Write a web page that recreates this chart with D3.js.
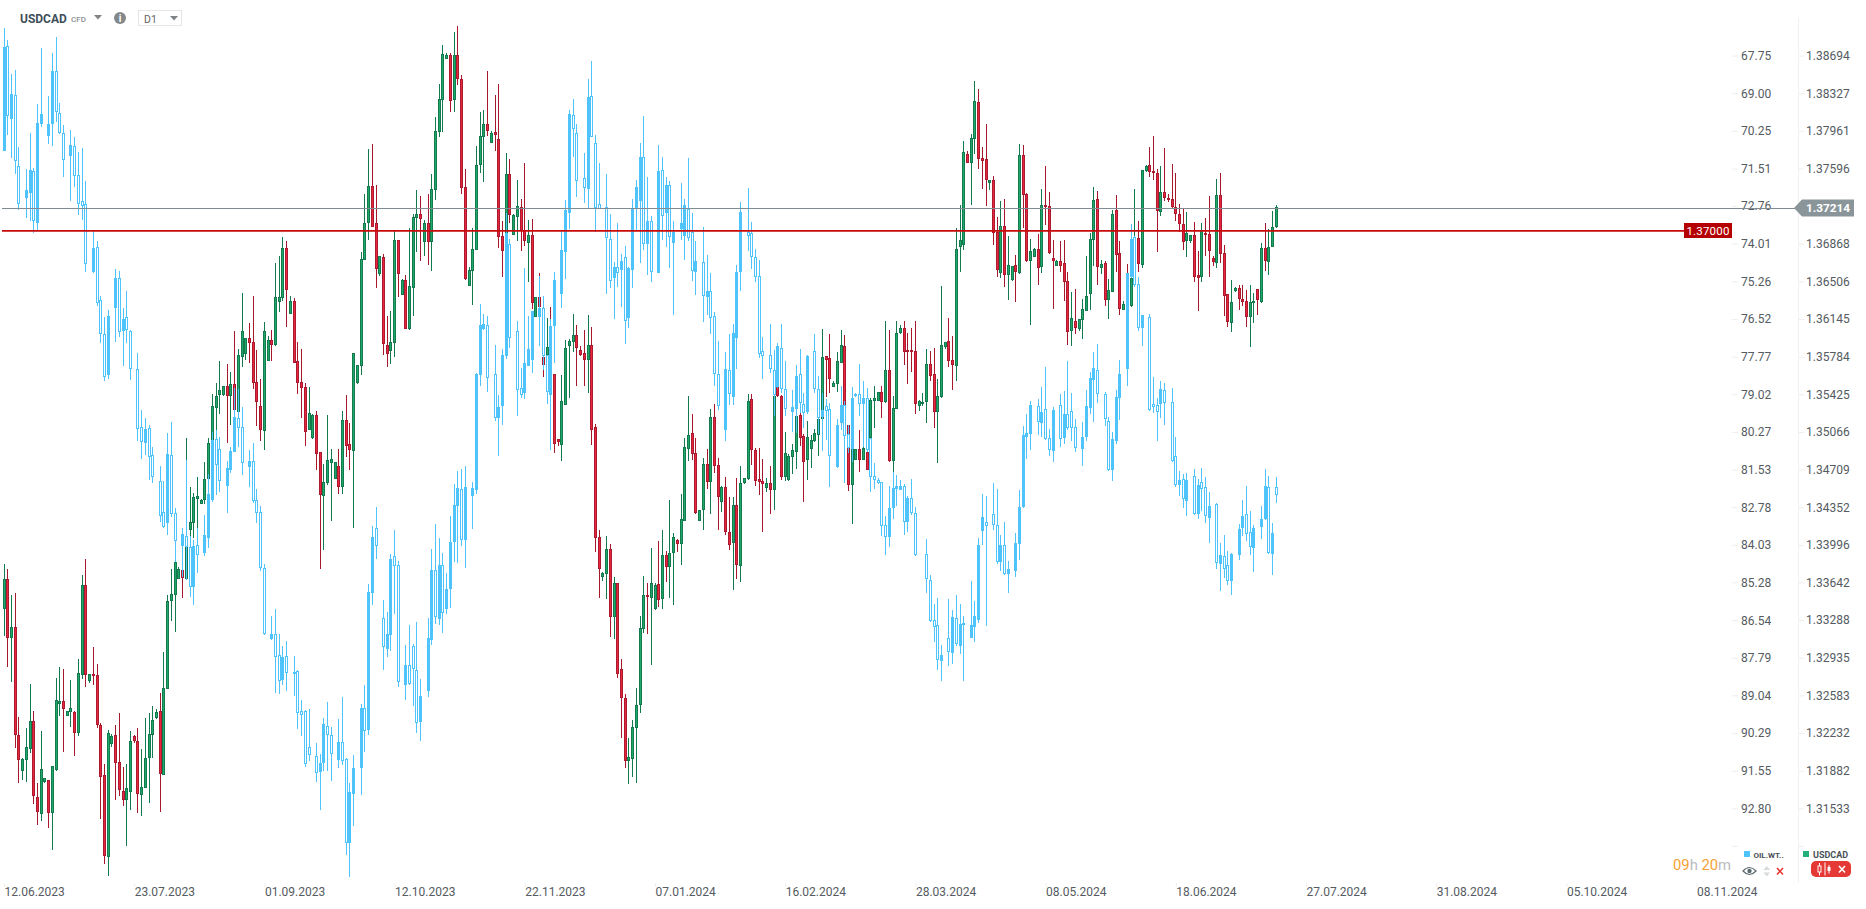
<!DOCTYPE html>
<html><head><meta charset="utf-8">
<script src="https://cdnjs.cloudflare.com/ajax/libs/d3/7.8.5/d3.min.js"></script>
<style>html,body{margin:0;padding:0;background:#fff;overflow:hidden}text{font-family:Roboto,sans-serif}</style>
</head><body><svg id="c" width="1866" height="909"></svg>
<script>
const dateLabels=["12.06.2023","23.07.2023","01.09.2023","12.10.2023","22.11.2023","07.01.2024","16.02.2024","28.03.2024","08.05.2024","18.06.2024","27.07.2024","31.08.2024","05.10.2024","08.11.2024"];
const oilTicks=[67.75,69.00,70.25,71.51,72.76,74.01,75.26,76.52,77.77,79.02,80.27,81.53,82.78,84.03,85.28,86.54,87.79,89.04,90.29,91.55,92.80];
const usdTicks=[1.38694,1.38327,1.37961,1.37596,1.37232,1.36868,1.36506,1.36145,1.35784,1.35425,1.35066,1.34709,1.34352,1.33996,1.33642,1.33288,1.32935,1.32583,1.32232,1.31882,1.31533];
const lastPrice=1.37214, levelPrice=1.37000;
// rows: open, high, low, close
const usdOhlc=[
[1.3339,1.3382,1.3314,1.3367],[1.3367,1.3377,1.3285,1.3312],[1.3312,1.3352,1.3271,1.3322],[1.3322,1.3354,1.3209,1.3221],[1.3221,1.3238,1.3177,1.3198],[1.3188,1.3200,1.3180,1.3199],
[1.3198,1.3228,1.3178,1.3210],[1.3208,1.3269,1.3205,1.3234],[1.3234,1.3244,1.3157,1.3164],[1.3164,1.3177,1.3138,1.3150],[1.3148,1.3225,1.3142,1.3190],[1.3177,1.3181,1.3177,1.3181],
[1.3180,1.3180,1.3135,1.3149],[1.3149,1.3193,1.3115,1.3193],[1.3189,1.3275,1.3188,1.3254],[1.3250,1.3285,1.3239,1.3253],[1.3253,1.3283,1.3206,1.3246],[1.3239,1.3244,1.3239,1.3244],
[1.3243,1.3273,1.3229,1.3247],[1.3243,1.3244,1.3202,1.3223],[1.3223,1.3292,1.3220,1.3279],[1.3278,1.3371,1.3274,1.3362],[1.3362,1.3386,1.3266,1.3278],[1.3271,1.3278,1.3270,1.3278],
[1.3278,1.3304,1.3268,1.3276],[1.3277,1.3288,1.3228,1.3230],[1.3231,1.3233,1.3143,1.3183],[1.3184,1.3194,1.3102,1.3109],[1.3108,1.3226,1.3091,1.3223],[1.3213,1.3222,1.3210,1.3220],
[1.3221,1.3231,1.3161,1.3195],[1.3196,1.3242,1.3165,1.3170],[1.3169,1.3192,1.3155,1.3161],[1.3161,1.3194,1.3118,1.3172],[1.3169,1.3225,1.3152,1.3216],[1.3220,1.3221,1.3214,1.3215],
[1.3216,1.3228,1.3149,1.3167],[1.3166,1.3208,1.3146,1.3173],[1.3172,1.3237,1.3172,1.3200],[1.3200,1.3242,1.3158,1.3222],[1.3221,1.3248,1.3200,1.3235],[1.3237,1.3246,1.3236,1.3243],
[1.3244,1.3261,1.3150,1.3185],[1.3184,1.3299,1.3184,1.3265],[1.3265,1.3352,1.3265,1.3347],[1.3346,1.3377,1.3328,1.3353],[1.3352,1.3387,1.3318,1.3383],[1.3368,1.3379,1.3368,1.3377],
[1.3376,1.3385,1.3350,1.3368],[1.3368,1.3501,1.3367,1.3398],[1.3413,1.3454,1.3395,1.3421],[1.3420,1.3449,1.3406,1.3445],[1.3443,1.3464,1.3415,1.3446],[1.3438,1.3443,1.3438,1.3442],
[1.3442,1.3478,1.3438,1.3462],[1.3462,1.3501,1.3461,1.3496],[1.3499,1.3543,1.3496,1.3531],[1.3530,1.3553,1.3508,1.3541],[1.3542,1.3574,1.3524,1.3547],[1.3541,1.3550,1.3541,1.3550],
[1.3550,1.3571,1.3496,1.3540],[1.3541,1.3564,1.3513,1.3552],[1.3552,1.3603,1.3526,1.3527],[1.3526,1.3586,1.3526,1.3580],[1.3578,1.3639,1.3569,1.3603],[1.3581,1.3596,1.3575,1.3596],
[1.3596,1.3611,1.3572,1.3591],[1.3592,1.3637,1.3548,1.3553],[1.3554,1.3585,1.3512,1.3535],[1.3531,1.3557,1.3498,1.3508],[1.3508,1.3612,1.3489,1.3603],[1.3574,1.3598,1.3574,1.3594],
[1.3594,1.3604,1.3574,1.3589],[1.3590,1.3668,1.3589,1.3636],[1.3631,1.3675,1.3621,1.3636],[1.3635,1.3693,1.3632,1.3683],[1.3683,1.3689,1.3607,1.3643],[1.3620,1.3637,1.3619,1.3632],
[1.3632,1.3635,1.3573,1.3573],[1.3574,1.3592,1.3543,1.3553],[1.3554,1.3586,1.3520,1.3548],[1.3549,1.3553,1.3493,1.3506],[1.3509,1.3549,1.3508,1.3525],[1.3501,1.3524,1.3500,1.3523],
[1.3523,1.3527,1.3470,1.3486],[1.3488,1.3488,1.3377,1.3447],[1.3446,1.3476,1.3395,1.3459],[1.3458,1.3523,1.3456,1.3480],[1.3477,1.3490,1.3422,1.3481],[1.3462,1.3478,1.3462,1.3478],
[1.3474,1.3490,1.3448,1.3454],[1.3454,1.3527,1.3448,1.3518],[1.3518,1.3542,1.3483,1.3493],[1.3495,1.3515,1.3470,1.3489],[1.3489,1.3582,1.3416,1.3582],[1.3553,1.3570,1.3552,1.3570],
[1.3569,1.3679,1.3561,1.3672],[1.3671,1.3735,1.3671,1.3707],[1.3707,1.3778,1.3690,1.3743],[1.3743,1.3783,1.3703,1.3703],[1.3707,1.3744,1.3644,1.3663],[1.3658,1.3675,1.3656,1.3675],
[1.3674,1.3677,1.3580,1.3590],[1.3590,1.3617,1.3569,1.3581],[1.3583,1.3622,1.3571,1.3592],[1.3591,1.3700,1.3578,1.3690],[1.3690,1.3690,1.3636,1.3657],[1.3638,1.3653,1.3638,1.3652],
[1.3652,1.3657,1.3605,1.3605],[1.3605,1.3702,1.3604,1.3646],[1.3645,1.3716,1.3617,1.3713],[1.3712,1.3739,1.3679,1.3716],[1.3716,1.3733,1.3670,1.3711],[1.3689,1.3710,1.3675,1.3707],
[1.3707,1.3735,1.3666,1.3689],[1.3689,1.3754,1.3661,1.3740],[1.3739,1.3810,1.3729,1.3796],[1.3795,1.3842,1.3790,1.3827],[1.3826,1.3880,1.3795,1.3871],[1.3866,1.3872,1.3866,1.3870],
[1.3870,1.3872,1.3814,1.3825],[1.3826,1.3892,1.3814,1.3870],[1.3870,1.3898,1.3841,1.3847],[1.3847,1.3850,1.3735,1.3741],[1.3742,1.3759,1.3652,1.3653],[1.3647,1.3664,1.3647,1.3662],
[1.3661,1.3702,1.3628,1.3682],[1.3681,1.3781,1.3681,1.3763],[1.3763,1.3814,1.3755,1.3791],[1.3790,1.3816,1.3746,1.3803],[1.3803,1.3854,1.3791,1.3796],[1.3784,1.3796,1.3784,1.3794],
[1.3795,1.3831,1.3777,1.3792],[1.3788,1.3842,1.3683,1.3693],[1.3694,1.3709,1.3655,1.3680],[1.3695,1.3775,1.3686,1.3754],[1.3754,1.3769,1.3707,1.3714],[1.3696,1.3716,1.3696,1.3715],
[1.3712,1.3748,1.3689,1.3723],[1.3722,1.3730,1.3680,1.3699],[1.3700,1.3765,1.3685,1.3689],[1.3687,1.3710,1.3650,1.3695],[1.3695,1.3711,1.3624,1.3630],[1.3617,1.3636,1.3617,1.3636],
[1.3636,1.3659,1.3626,1.3626],[1.3578,1.3578,1.3559,1.3570],[1.3580,1.3615,1.3580,1.3588],[1.3588,1.3626,1.3559,1.3562],[1.3562,1.3562,1.3487,1.3495],[1.3500,1.3500,1.3493,1.3497],
[1.3494,1.3561,1.3479,1.3536],[1.3533,1.3594,1.3532,1.3587],[1.3588,1.3595,1.3539,1.3593],[1.3592,1.3619,1.3583,1.3599],[1.3599,1.3609,1.3550,1.3587],[1.3585,1.3589,1.3579,1.3580],
[1.3582,1.3604,1.3550,1.3575],[1.3576,1.3618,1.3544,1.3590],[1.3590,1.3607,1.3494,1.3509],[1.3511,1.3514,1.3393,1.3406],[1.3407,1.3414,1.3350,1.3377],[1.3369,1.3374,1.3366,1.3373],
[1.3372,1.3408,1.3349,1.3396],[1.3396,1.3400,1.3313,1.3332],[1.3332,1.3369,1.3311,1.3364],[1.3364,1.3364,1.3275,1.3279],[1.3283,1.3292,1.3219,1.3256],[1.3256,1.3260,1.3191,1.3197],
[1.3197,1.3219,1.3176,1.3201],[1.3199,1.3235,1.3182,1.3229],[1.3228,1.3265,1.3177,1.3249],[1.3249,1.3333,1.3242,1.3321],[1.3320,1.3370,1.3317,1.3352],[1.3352,1.3364,1.3316,1.3350],
[1.3350,1.3397,1.3287,1.3364],[1.3339,1.3364,1.3338,1.3362],[1.3363,1.3403,1.3341,1.3348],[1.3349,1.3414,1.3339,1.3390],[1.3390,1.3394,1.3365,1.3379],[1.3379,1.3442,1.3350,1.3392],
[1.3392,1.3411,1.3343,1.3407],[1.3404,1.3405,1.3393,1.3400],[1.3400,1.3448,1.3381,1.3424],[1.3422,1.3501,1.3422,1.3492],[1.3491,1.3541,1.3479,1.3504],[1.3506,1.3524,1.3480,1.3486],
[1.3487,1.3501,1.3429,1.3430],[1.3423,1.3433,1.3422,1.3433],[1.3432,1.3482,1.3414,1.3476],[1.3476,1.3490,1.3452,1.3459],[1.3459,1.3528,1.3429,1.3521],[1.3521,1.3533,1.3468,1.3474],
[1.3475,1.3482,1.3414,1.3445],[1.3440,1.3455,1.3431,1.3454],[1.3454,1.3464,1.3409,1.3411],[1.3412,1.3445,1.3395,1.3400],[1.3401,1.3445,1.3357,1.3437],[1.3437,1.3463,1.3367,1.3380],
[1.3380,1.3474,1.3365,1.3458],[1.3458,1.3463,1.3457,1.3463],[1.3462,1.3543,1.3461,1.3536],[1.3538,1.3543,1.3475,1.3489],[1.3489,1.3491,1.3455,1.3460],[1.3462,1.3491,1.3447,1.3459],
[1.3460,1.3481,1.3412,1.3457],[1.3453,1.3463,1.3450,1.3458],[1.3458,1.3474,1.3429,1.3451],[1.3452,1.3585,1.3433,1.3541],[1.3549,1.3550,1.3540,1.3540],[1.3541,1.3542,1.3461,1.3464],
[1.3464,1.3507,1.3460,1.3487],[1.3461,1.3486,1.3460,1.3484],[1.3482,1.3495,1.3467,1.3489],[1.3488,1.3528,1.3471,1.3522],[1.3523,1.3525,1.3493,1.3501],[1.3503,1.3505,1.3440,1.3478],
[1.3480,1.3517,1.3461,1.3502],[1.3490,1.3504,1.3472,1.3499],[1.3498,1.3509,1.3497,1.3506],[1.3504,1.3520,1.3484,1.3519],[1.3519,1.3605,1.3518,1.3578],[1.3579,1.3579,1.3540,1.3575],
[1.3577,1.3600,1.3544,1.3557],[1.3549,1.3555,1.3549,1.3553],[1.3552,1.3583,1.3545,1.3574],[1.3573,1.3604,1.3573,1.3590],[1.3589,1.3599,1.3527,1.3533],[1.3513,1.3513,1.3451,1.3456],
[1.3456,1.3493,1.3419,1.3490],[1.3480,1.3490,1.3480,1.3490],[1.3490,1.3508,1.3469,1.3480],[1.3480,1.3499,1.3480,1.3491],[1.3488,1.3490,1.3471,1.3471],[1.3501,1.3539,1.3501,1.3537],
[1.3536,1.3550,1.3510,1.3539],[1.3536,1.3545,1.3536,1.3545],[1.3545,1.3550,1.3520,1.3535],[1.3535,1.3613,1.3534,1.3566],[1.3566,1.3604,1.3478,1.3479],[1.3479,1.3541,1.3469,1.3529],
[1.3528,1.3613,1.3528,1.3601],[1.3601,1.3609,1.3600,1.3606],[1.3606,1.3613,1.3570,1.3583],[1.3585,1.3601,1.3552,1.3583],[1.3585,1.3606,1.3564,1.3583],[1.3584,1.3613,1.3524,1.3533],
[1.3531,1.3537,1.3527,1.3536],[1.3533,1.3544,1.3531,1.3535],[1.3535,1.3586,1.3515,1.3571],[1.3571,1.3584,1.3555,1.3560],[1.3562,1.3587,1.3510,1.3526],[1.3526,1.3557,1.3477,1.3541],
[1.3540,1.3646,1.3539,1.3590],[1.3587,1.3592,1.3586,1.3592],[1.3593,1.3615,1.3569,1.3574],[1.3575,1.3598,1.3547,1.3570],[1.3570,1.3702,1.3555,1.3682],[1.3683,1.3724,1.3660,1.3690],
[1.3686,1.3786,1.3681,1.3776],[1.3774,1.3777,1.3765,1.3765],[1.3765,1.3793,1.3724,1.3789],[1.3788,1.3845,1.3774,1.3825],[1.3824,1.3837,1.3759,1.3769],[1.3770,1.3780,1.3740,1.3767],
[1.3769,1.3803,1.3723,1.3749],[1.3745,1.3748,1.3739,1.3748],[1.3748,1.3752,1.3686,1.3697],[1.3698,1.3713,1.3655,1.3661],[1.3659,1.3728,1.3654,1.3704],[1.3704,1.3730,1.3645,1.3657],
[1.3656,1.3694,1.3633,1.3666],[1.3652,1.3665,1.3651,1.3665],[1.3666,1.3676,1.3631,1.3659],[1.3659,1.3783,1.3658,1.3773],[1.3773,1.3782,1.3702,1.3734],[1.3735,1.3736,1.3669,1.3670],
[1.3670,1.3691,1.3609,1.3680],[1.3674,1.3683,1.3674,1.3682],[1.3682,1.3696,1.3647,1.3664],[1.3664,1.3740,1.3659,1.3724],[1.3724,1.3762,1.3705,1.3722],[1.3723,1.3737,1.3677,1.3678],
[1.3673,1.3690,1.3624,1.3670],[1.3665,1.3671,1.3665,1.3670],[1.3670,1.3689,1.3660,1.3665],[1.3668,1.3690,1.3632,1.3650],[1.3651,1.3660,1.3590,1.3602],[1.3603,1.3640,1.3589,1.3615],
[1.3613,1.3643,1.3600,1.3606],[1.3604,1.3614,1.3603,1.3614],[1.3613,1.3634,1.3595,1.3624],[1.3623,1.3675,1.3623,1.3637],[1.3638,1.3697,1.3623,1.3691],[1.3690,1.3742,1.3665,1.3729],
[1.3730,1.3738,1.3647,1.3664],[1.3663,1.3671,1.3658,1.3667],[1.3668,1.3670,1.3627,1.3632],[1.3632,1.3653,1.3614,1.3642],[1.3641,1.3719,1.3641,1.3716],[1.3719,1.3734,1.3660,1.3676],
[1.3678,1.3689,1.3618,1.3624],[1.3623,1.3632,1.3623,1.3629],[1.3629,1.3667,1.3623,1.3625],[1.3627,1.3671,1.3626,1.3654],[1.3654,1.3740,1.3653,1.3692],[1.3692,1.3709,1.3660,1.3667],
[1.3666,1.3758,1.3663,1.3758],[1.3757,1.3763,1.3756,1.3762],[1.3763,1.3780,1.3751,1.3756],[1.3757,1.3791,1.3748,1.3755],[1.3755,1.3759,1.3679,1.3718],[1.3718,1.3762,1.3714,1.3737],
[1.3737,1.3779,1.3728,1.3731],[1.3731,1.3735,1.3727,1.3729],[1.3730,1.3764,1.3720,1.3722],[1.3722,1.3755,1.3709,1.3715],[1.3716,1.3725,1.3698,1.3706],[1.3706,1.3720,1.3681,1.3689],
[1.3689,1.3717,1.3674,1.3697],[1.3689,1.3695,1.3688,1.3695],[1.3695,1.3708,1.3650,1.3655],[1.3657,1.3680,1.3622,1.3654],[1.3655,1.3707,1.3650,1.3700],[1.3697,1.3712,1.3675,1.3695],
[1.3696,1.3733,1.3655,1.3680],[1.3673,1.3675,1.3665,1.3669],[1.3668,1.3749,1.3663,1.3734],[1.3734,1.3755,1.3668,1.3677],[1.3678,1.3686,1.3617,1.3637],[1.3638,1.3638,1.3607,1.3611],
[1.3611,1.3652,1.3602,1.3631],[1.3641,1.3645,1.3640,1.3644],[1.3644,1.3647,1.3623,1.3633],[1.3634,1.3647,1.3627,1.3631],[1.3632,1.3642,1.3607,1.3617],[1.3617,1.3647,1.3588,1.3631],
[1.3631,1.3639,1.3611,1.3632],[1.3643,1.3643,1.3618,1.3632],[1.3631,1.3688,1.3630,1.3683],[1.3683,1.3707,1.3661,1.3670],[1.3670,1.3701,1.3657,1.3684],[1.3684,1.3718,1.3684,1.3703],
[1.3703,1.3724,1.3702,1.3722]];
const oilOhlc=[
[70.91,70.91,66.84,67.46],[67.44,70.39,67.23,69.78],[69.88,71.15,68.36,69.04],[69.07,71.68,68.23,71.28],[71.43,72.89,70.79,72.70],null,
[72.51,73.15,71.53,72.23],[72.34,73.24,70.34,71.57],[71.60,73.64,71.50,73.27],[73.34,73.55,69.37,70.00],[70.04,70.13,67.51,69.70],null,
[70.45,70.69,69.09,70.04],[70.03,70.75,67.67,68.27],[68.27,69.97,67.14,69.65],[69.67,70.36,69.34,70.35],[70.34,71.78,70.07,71.25],null,
[71.11,72.58,70.23,70.74],[70.77,72.11,70.47,71.78],[71.73,73.05,70.97,72.68],[72.60,73.21,70.84,72.76],[72.70,74.94,71.93,74.70],null,
[74.97,74.98,73.59,74.16],[74.11,76.08,73.93,75.96],[75.89,77.33,75.75,77.03],[77.02,78.58,76.46,78.45],[78.38,78.52,76.21,76.42],null,
[76.17,77.27,74.86,75.16],[75.16,77.13,74.92,76.97],[76.92,78.07,76.15,76.52],[76.46,77.32,75.58,76.89],[76.91,78.53,76.89,78.17],null,
[78.19,80.56,77.66,80.18],[80.12,81.18,79.54,80.63],[80.63,81.04,79.82,80.18],[80.15,81.89,80.04,81.12],[81.05,81.96,80.76,81.78],null,
[81.91,83.26,81.40,83.06],[82.95,83.47,81.90,83.46],[83.31,83.70,80.32,81.00],[81.05,83.09,79.95,83.01],[82.98,84.59,82.81,83.92],null,
[84.09,85.09,83.48,83.68],[83.73,85.20,81.20,84.09],[84.11,85.78,83.75,85.45],[85.45,86.04,83.87,84.08],[84.04,84.97,83.48,84.36],null,
[84.32,84.42,83.03,83.71],[83.82,84.15,81.67,82.35],[82.54,82.59,80.29,80.54],[80.52,82.37,80.21,81.39],[80.85,82.26,80.43,81.92],null,
[82.09,82.98,81.24,81.48],[81.56,81.65,80.76,80.92],[80.93,80.94,78.82,79.78],[79.82,80.76,78.84,80.16],[80.12,81.70,79.45,81.32],null,
[81.43,82.12,80.87,81.24],[81.25,82.65,80.65,82.59],[82.55,83.29,82.17,82.98],[82.95,84.89,82.73,84.82],[84.81,87.03,84.68,87.00],null,
[87.18,87.19,86.39,87.00],[87.00,88.95,86.17,87.78],[87.70,88.99,87.00,88.58],[88.55,88.69,87.41,87.77],[87.74,88.89,87.23,88.30],null,
[88.27,89.06,87.73,88.35],[88.24,90.15,88.19,89.64],[89.57,90.39,89.19,89.70],[89.57,91.41,89.52,91.34],[90.76,91.22,89.50,91.01],null,
[91.06,91.92,90.63,91.63],[91.61,92.85,90.99,91.30],[91.31,91.57,89.80,90.00],[90.07,91.57,89.26,90.36],[90.36,91.88,90.10,91.00],null,
[91.21,91.46,89.83,90.60],[90.60,91.35,89.10,91.24],[91.16,94.35,91.13,93.96],[93.96,95.07,91.96,92.26],[92.31,93.40,91.02,91.46],null,
[91.47,92.35,89.33,89.47],[89.47,90.94,88.69,90.23],[90.21,90.35,85.34,85.61],[85.65,86.05,83.41,83.78],[83.48,84.49,82.77,84.09],null,
[86.47,88.21,85.86,87.45],[87.51,87.75,86.27,87.00],[87.05,87.55,84.33,84.51],[84.41,86.32,83.53,84.74],[84.71,88.75,84.58,88.60],null,
[88.71,89.21,87.37,88.04],[88.04,88.69,86.70,88.67],[87.40,89.41,87.33,88.17],[88.20,90.29,86.61,89.96],[89.94,90.57,88.49,89.07],null,
[88.91,89.11,86.46,87.14],[87.20,87.36,84.17,84.87],[84.88,86.66,83.33,86.44],[86.52,86.69,83.80,84.71],[84.71,86.95,84.30,86.31],[86.19,86.33,84.98,85.51],
[85.52,86.12,83.07,83.94],[83.95,84.60,82.00,82.71],[82.76,84.62,81.58,82.15],[82.18,84.07,81.50,83.89],[83.89,84.80,81.40,82.11],null,
[82.41,83.50,81.94,82.15],[82.20,82.34,78.32,78.34],[78.37,78.76,76.01,76.72],[76.87,76.88,76.35,76.69],[76.72,78.96,76.41,78.50],null,
[78.35,79.91,77.38,79.82],[79.81,81.06,79.04,79.44],[79.43,80.04,77.51,77.72],[77.77,77.85,73.00,73.66],[74.03,77.49,73.85,77.16],null,
[76.92,79.74,76.58,78.89],[78.82,79.15,78.14,79.06],[79.00,79.19,74.81,77.99],[78.07,78.07,76.41,77.52],[77.88,78.30,76.24,76.24],null,
[76.46,77.40,75.07,76.16],[76.16,78.21,75.75,77.77],[77.73,79.34,77.71,78.96],[79.04,80.87,76.52,76.75],[76.77,77.97,74.95,75.23],null,
[75.70,76.14,73.55,74.22],[74.30,75.17,72.55,72.89],[72.98,73.51,69.56,69.70],[69.74,71.11,69.19,70.20],[70.34,72.44,70.03,71.93],null,
[71.83,72.64,71.00,72.17],[72.21,72.83,68.53,69.14],[69.10,70.47,67.93,70.47],[70.67,73.63,70.40,72.83],[72.70,72.86,71.33,72.86],null,
[72.80,75.70,71.69,73.83],[73.86,75.49,73.02,75.27],[75.14,76.50,74.61,74.79],[74.79,75.46,73.33,75.00],[74.89,76.10,74.35,74.59],[74.46,77.36,74.08,76.59],
[76.50,76.81,74.79,74.83],[74.86,75.47,72.53,72.84],[72.86,73.55,71.89,72.13],[72.58,74.64,70.67,71.13],[71.13,74.22,69.75,74.01],[74.01,75.05,71.80,73.26],
[73.26,75.27,73.10,74.97],null,[74.97,74.98,70.74,71.59],[71.57,73.88,71.13,73.10],[73.01,74.11,71.80,72.07],[72.07,74.81,71.92,73.80],
[74.01,76.37,73.25,73.63],null,[73.52,73.88,72.00,73.33],[73.77,74.55,72.52,72.73],[72.84,73.91,71.17,73.80],[73.63,75.25,73.00,74.94],
[74.97,75.71,73.92,74.59],null,[74.63,76.60,73.44,75.77],[75.80,76.38,74.38,75.59],[75.59,77.00,74.98,76.49],[76.42,78.73,76.28,78.35],
[78.35,79.54,77.25,79.42],null,[80.23,80.56,77.61,78.19],[78.22,79.39,77.01,79.02],[79.12,79.37,76.68,76.99],[77.16,78.17,74.72,74.96],
[74.97,75.57,72.63,72.96],null,[73.63,74.24,72.15,73.77],[73.66,74.85,73.29,74.46],[74.46,75.28,74.18,75.13],[75.09,77.80,74.55,77.69],
[77.59,78.50,77.12,77.76],null,[77.72,78.32,76.68,78.19],[78.22,79.73,77.54,79.05],[78.79,78.80,77.32,77.42],[77.49,78.99,76.68,78.85],
[78.85,79.76,77.91,79.52],null,[79.63,80.27,78.88,79.45],[79.52,80.32,78.05,78.42],[78.35,79.65,77.52,79.33],[79.34,80.15,78.99,79.63],
[79.63,79.67,77.72,77.75],null,[77.59,78.99,77.01,78.85],[78.85,80.35,78.41,79.82],[79.78,80.90,78.99,79.54],[79.42,80.54,79.17,79.58],
[79.52,82.12,79.32,81.09],null,[81.46,81.47,79.84,80.05],[79.99,80.21,78.74,79.39],[79.39,81.96,79.24,80.43],[80.35,80.98,80.04,80.83],
[80.84,81.26,78.79,79.15],[79.10,79.12,78.99,79.02],[79.02,79.73,78.01,79.36],[79.36,80.76,78.58,79.15],[79.15,80.93,78.82,80.89],[80.48,82.29,80.48,81.79],
[81.75,82.17,81.32,81.89],[81.88,82.01,81.81,81.99],[81.95,83.75,81.93,83.42],[83.38,84.36,83.07,83.78],[83.79,84.09,82.09,82.81],[82.81,83.17,81.60,82.15],
[82.20,82.73,81.70,82.09],[82.19,82.20,81.89,82.06],[82.06,83.72,82.01,83.26],[83.29,83.59,82.42,82.48],[82.48,83.03,81.84,82.99],[82.98,84.42,82.76,84.39],
null,null,[84.34,85.65,83.84,85.17],[85.21,86.59,85.03,86.57],[86.54,87.25,86.00,86.77],[86.71,88.19,85.80,87.88],
[87.91,88.56,87.36,87.70],null,[87.14,88.08,85.83,87.61],[87.65,87.99,86.19,86.44],[86.47,87.41,85.70,87.35],[87.41,87.66,86.00,86.67],
[86.64,88.58,86.39,86.71],null,[87.12,87.13,85.23,86.70],[86.78,87.25,85.90,86.41],[86.52,86.64,83.80,84.04],[83.59,84.05,82.33,83.11],
[83.26,86.72,82.40,83.38],null,[83.01,83.53,81.98,83.38],[83.38,84.66,82.17,84.62],[84.62,84.89,83.71,84.04],[84.04,85.03,83.27,85.02],
[85.02,85.62,84.57,84.84],null,[84.92,85.09,83.64,83.98],[84.02,84.53,82.20,82.78],[82.76,82.82,80.07,80.38],[80.46,81.16,79.67,80.32],
[80.36,80.89,79.24,79.39],null,[79.42,80.37,79.19,79.96],[79.98,80.43,78.78,79.62],[79.52,80.53,78.12,80.52],[80.48,81.09,80.17,80.88],
[80.93,81.26,79.44,79.55],null,[79.39,80.76,79.02,80.52],[80.49,80.66,78.91,79.68],[79.68,80.21,77.92,80.16],[79.59,80.59,78.99,80.15],
[80.12,80.93,79.84,80.83],null,[80.86,81.40,79.95,80.45],[80.46,80.56,78.89,79.42],[79.50,79.67,78.29,78.49],[78.56,79.93,77.62,78.15],
[78.22,79.30,77.36,79.03],null,[79.02,80.07,78.95,79.85],[79.92,81.59,79.78,81.56],[81.56,81.90,80.28,80.52],[80.59,80.66,78.89,79.12],
[79.16,79.87,77.88,78.35],null,[78.21,78.76,75.00,75.00],[75.13,75.16,73.35,73.86],[73.79,75.44,73.77,75.40],[75.36,76.93,75.13,76.83],
[76.83,77.43,76.38,76.39],null,[76.46,79.57,76.36,79.54],[79.35,79.63,78.44,79.46],[79.37,80.59,79.15,79.60],[79.34,79.80,78.59,78.85],
[78.89,80.06,78.64,79.33],null,[79.29,81.29,78.81,81.26],[81.09,82.12,80.45,82.06],[82.04,82.42,81.57,81.87],[81.85,82.79,81.68,82.51],
[82.56,83.06,81.65,81.87],null,[81.75,83.03,81.51,83.01],[83.00,83.17,81.85,82.05],[81.95,82.90,81.48,82.19],[82.11,83.30,81.77,83.09],
[83.16,83.97,82.28,82.75],null,[82.67,84.84,82.63,84.62],[84.68,85.56,83.98,84.38],[84.41,85.13,83.71,84.84],[84.71,85.36,84.23,85.24],
[85.24,85.70,84.31,84.34],null,[84.38,84.53,83.33,83.51],[83.49,83.73,82.54,83.08],[83.01,83.89,82.07,83.69],[83.61,84.36,82.91,84.11],
[84.15,84.93,83.38,83.48],null,[83.46,83.84,82.75,83.18],[83.19,83.20,81.51,82.08],[82.11,84.33,81.74,84.31],[84.35,85.03,83.30,83.64],
[82.11,82.63,81.77,82.36]];

const svg=d3.select("#c");
const x=d3.scaleLinear().domain([0,455]).range([4,1696.6]);
const yOil=d3.scaleLinear().domain([67.75,92.80]).range([55.6,808.3]);
const yUsd=d3.scaleLog().domain([1.38694,1.31533]).range([55.6,808.3]);
const cx=i=>Math.floor(x(i))+0.5;

function candles(rows,y,cls,style){
  const data=rows.map((r,i)=>r&&({i,o:r[0],h:r[1],l:r[2],c:r[3]})).filter(Boolean);
  const g=svg.append("g").attr("class",cls).attr("shape-rendering","crispEdges");
  const sel=g.selectAll("g").data(data).join("g");
  sel.append("line").attr("x1",d=>cx(d.i)).attr("x2",d=>cx(d.i))
    .attr("y1",d=>Math.min(y(d.h),y(d.l))).attr("y2",d=>Math.max(y(d.h),y(d.l)))
    .attr("stroke",d=>style(d).wick);
  sel.append("rect").attr("x",d=>cx(d.i)-1).attr("width",2)
    .attr("y",d=>Math.round(Math.min(y(d.o),y(d.c)))+0.5)
    .attr("height",d=>Math.max(1,Math.round(Math.abs(y(d.o)-y(d.c)))-1))
    .attr("fill",d=>style(d).fill).attr("stroke",d=>style(d).stroke);
}
candles(usdOhlc,yUsd,"usd",d=>d.c>=d.o?{wick:"#127a4e",fill:"#1fa868",stroke:"#127a4e"}:{wick:"#a8182c",fill:"#e8273f",stroke:"#ab1a2e"});
candles(oilOhlc,yOil,"oil",d=>d.c<d.o?{wick:"#4fc3fb",fill:"#4fc3fb",stroke:"#4fc3fb"}:{wick:"#4fc3fb",fill:"#fff",stroke:"#4fc3fb"});

// axes
function styleAxis(g){
  g.select(".domain").remove();
  g.selectAll(".tick line").attr("stroke","#eeeeee");
  g.selectAll(".tick text").attr("fill","#555b61").style("font-size","12px").style("font-family","Roboto");
}
svg.append("line").attr("x1",1798.5).attr("x2",1798.5).attr("y1",18).attr("y2",883).attr("stroke","#f0f0f0");
const oilAxis=d3.axisRight(yOil).tickValues(oilTicks.concat([94.05])).tickSize(6).tickPadding(3)
  .tickFormat(d=>d>93?"":d3.format(".2f")(d));
svg.append("g").attr("transform","translate(1732,0)").call(oilAxis).call(styleAxis);
const usdAxis=d3.axisRight(yUsd).tickValues(usdTicks.concat([1.31185])).tickSize(5).tickPadding(2)
  .tickFormat(d=>d<1.313?"":d3.format(".5f")(d));
svg.append("g").attr("transform","translate(1799,0)").call(usdAxis).call(styleAxis);
const xAxis=d3.axisBottom(x).tickValues(d3.range(0,456,35)).tickSize(4).tickPadding(3)
  .tickFormat(i=>dateLabels[i/35]);
svg.append("g").attr("transform","translate(0,883)").call(xAxis).call(styleAxis)
  .selectAll(".tick text").attr("text-anchor","start").attr("y",4.8);

// price lines
svg.append("line").attr("x1",2).attr("x2",1795).attr("y1",Math.round(yUsd(lastPrice))+.5).attr("y2",Math.round(yUsd(lastPrice))+.5).attr("stroke","#808c91").attr("shape-rendering","crispEdges");
const ly=Math.round(yUsd(levelPrice))+.5;
svg.append("line").attr("x1",2).attr("x2",1684).attr("y1",ly+.3).attr("y2",ly+.3).attr("stroke","#c80a0a").attr("stroke-width",1.7);
svg.append("rect").attr("x",1684).attr("y",ly-7.5).attr("width",48).attr("height",15).attr("fill","#b40000");
svg.append("text").attr("x",1708).attr("y",ly+4).attr("text-anchor","middle").attr("fill","#fff").style("font-size","11.5px").style("letter-spacing","0.2px").text("1.37000");
const py=yUsd(lastPrice);
svg.append("path").attr("d",`M1794 ${py}L1802 ${py-8.5}H1854V${py+8.5}H1802Z`).attr("fill","#8a959a");
svg.append("text").attr("x",1806).attr("y",py+4.5).attr("fill","#fff").style("font-size","11.8px").style("font-weight","700").text("1.37214");

// header
svg.append("text").attr("x",20).attr("y",23).attr("fill","#3f4e59").style("font-size","12px").style("font-weight","700").text("USDCAD");
svg.append("text").attr("x",71).attr("y",22).attr("fill","#8a9095").style("font-size","8px").style("font-weight","500").text("CFD");
svg.append("path").attr("d","M94 15H102L98 19.5Z").attr("fill","#808487");
svg.append("circle").attr("cx",120).attr("cy",18).attr("r",6).attr("fill","#85888b");
svg.append("text").attr("x",120).attr("y",22).attr("text-anchor","middle").attr("fill","#fff").style("font-size","10px").style("font-weight","700").text("i");
svg.append("rect").attr("x",138.5).attr("y",10.5).attr("width",43).attr("height",15).attr("fill","#fff").attr("stroke","#e6e6e6");
svg.append("text").attr("x",144).attr("y",23).attr("fill","#666").style("font-size","10.5px").text("D1");
svg.append("path").attr("d","M170 16H178L174 20.5Z").attr("fill","#808487");

// countdown
const cd=svg.append("text").attr("x",1673).attr("y",870).style("font-size","14.8px");
cd.append("tspan").attr("fill","#f7a234").text("09");
cd.append("tspan").attr("fill","#b9bcbe").text("h ");
cd.append("tspan").attr("fill","#f7a234").text("20");
cd.append("tspan").attr("fill","#b9bcbe").text("m");

// legend
svg.append("rect").attr("x",1744).attr("y",851).attr("width",6).attr("height",6).attr("fill","#4fc3fb");
svg.append("text").attr("x",1753.5).attr("y",857.5).attr("fill","#4a5057").style("font-size","8px").style("font-weight","700").text("OIL.WT..");
svg.append("rect").attr("x",1803).attr("y",851).attr("width",6).attr("height",6).attr("fill","#22b07d");
svg.append("text").attr("x",1813).attr("y",857.8).attr("fill","#4a5057").style("font-size","9px").style("font-weight","700").text("USDCAD");
// eye, arrows, close
svg.append("path").attr("d","M1743 871Q1749.5 864 1756 871Q1749.5 878 1743 871Z").attr("fill","none").attr("stroke","#5f6b73").attr("stroke-width","1.2");
svg.append("circle").attr("cx",1749.5).attr("cy",871).attr("r",2.2).attr("fill","#5f6b73");
svg.append("path").attr("d","M1763.5 870L1766.7 866L1770 870ZM1763.5 872.5L1766.7 876.5L1770 872.5Z").attr("fill","#d5dadc");
svg.append("path").attr("d","M1777 868L1783 874.5M1783 868L1777 874.5").attr("stroke","#e53935").attr("stroke-width","1.6").attr("fill","none");
svg.append("rect").attr("x",1811).attr("y",861).attr("width",40).attr("height",16).attr("rx",5).attr("fill","#e53935");
svg.append("path").attr("d","M1819.5 863V875.5M1825 862.5V875.5M1829 865V873.5").attr("stroke","#fff").attr("fill","none");
svg.append("rect").attr("x",1818).attr("y",866).attr("width",3).attr("height",6).attr("fill","#e53935").attr("stroke","#fff");
svg.append("rect").attr("x",1827.5).attr("y",867).attr("width",3).attr("height",4).attr("fill","#fff");
svg.append("path").attr("d","M1839 866L1845 872.5M1845 866L1839 872.5").attr("stroke","#fff").attr("stroke-width","1.6").attr("fill","none");
</script></body></html>
